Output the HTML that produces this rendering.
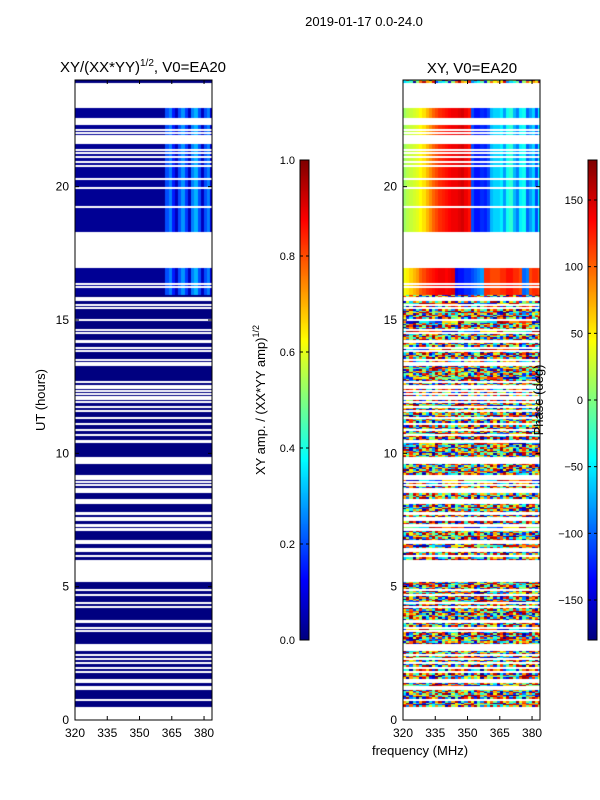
<!DOCTYPE html>
<html><head><meta charset="utf-8">
<style>
html,body{margin:0;padding:0;background:#fff;width:600px;height:800px;overflow:hidden}
#root{position:relative;width:600px;height:800px;font-family:"Liberation Sans","DejaVu Sans",sans-serif}
canvas{position:absolute}
svg{position:absolute;left:0;top:0}
</style></head>
<body>
<div id="root">
<canvas id="ampCanvas" width="137" height="640" style="left:75px;top:80px"></canvas>
<canvas id="phaseCanvas" width="137" height="640" style="left:403px;top:80px"></canvas>
<canvas id="cb1" width="9" height="480" style="left:300px;top:160px"></canvas>
<canvas id="cb2" width="9" height="480" style="left:588px;top:160px"></canvas>
<svg id="ov" width="600" height="800"></svg>
</div>
<script>
// ---- data ----
const freqStart = 320, freqStep = 1.5, nFreq = 44;
const utStep = 0.05;
const dataRanges = [[0.52, 22.95], [23.9, 24.0]];
const gapRanges = [
 [22.3,22.57],[22.12,22.16],[22.0,22.04],[21.88,21.92],[21.6,21.9],[21.38,21.42],[21.26,21.3],[21.1,21.14],[20.93,20.97],[20.75,20.8],[20.25,20.32],[19.93,19.98],[19.22,19.27],[18.25,18.3],[16.95,18.25],
 [16.35,16.4],[16.23,16.27],[15.7,15.85],[15.55,15.6],[15.42,15.47],[14.98,15.03],[14.64,14.68],[14.52,14.56],[14.15,14.25],[13.95,13.99],[13.83,13.87],[13.5,13.54],[13.4,13.44],[13.3,13.34],
 [12.65,12.72],[12.55,12.58],[12.45,12.48],[12.33,12.36],[12.22,12.25],[12.12,12.15],[12.03,12.06],[11.9,11.96],[11.75,11.79],[11.6,11.64],[11.28,11.36],[11.1,11.14],[10.88,10.92],[10.65,10.72],[10.4,10.5],
 [9.6,9.85],[9.0,9.2],[8.95,8.98],[8.82,8.86],[8.5,8.7],[8.1,8.3],[7.7,7.8],[7.6,7.63],[7.52,7.55],[7.25,7.35],[7.1,7.2],[6.72,6.75],[6.63,6.66],[6.3,6.45],[6.1,6.2],[5.17,6.0],
 [4.88,4.92],[4.7,4.74],[4.38,4.42],[4.23,4.27],[3.65,3.75],[3.45,3.49],[3.35,3.39],[2.6,2.85],[2.45,2.49],[2.3,2.34],[2.12,2.16],[1.95,1.99],[1.8,1.84],[1.4,1.55],[1.25,1.29],[1.15,1.19],[0.73,0.8]
];
const structuredBands = [[18.3, 22.95], [15.95, 16.95]];
const ampByFreq = [0.02,0.02,0.02,0.02,0.02,0.02,0.02,0.02,0.02,0.02,0.02,0.02,0.02,0.02,0.02,0.02,0.02,0.02,0.02,0.02,0.02,0.02,0.02,0.02,0.02,0.02,0.02,0.02,
 0.2,0.25,0.15,0.06,0.2,0.27,0.18,0.06,0.25,0.3,0.2,0.06,0.2,0.25,0.08,0.15];
const phaseUpperByFreq = [10,20,25,30,35,45,55,70,85,100,110,120,125,130,135,140,140,145,150,140,130,-110,-130,-130,-120,-125,-110,-70,-60,
 -60,-50,-80,-40,-30,-70,-90,-50,-40,-100,-80,-60,-110,-50,-40];
const phaseLowerByFreq = [40,50,60,70,80,100,110,120,125,130,135,140,140,135,140,145,-140,-130,-130,-120,-120,-110,-100,-90,-80,120,120,110,110,110,120,120,130,130,120,120,110,-100,-90,110,120,120,110,110];
const noisePhases = [170,-150,60,-20,120,-90,10,150,-170,40,-60,100,-120,0,80,-40,160];
const ampTicks = [0,0.2,0.4,0.6,0.8,1.0];
const phaseTicks = [-150,-100,-50,0,50,100,150];
const utTicks = [0,5,10,15,20];
const freqTicks = [320,335,350,365,380];

// ---- scales ----
const AX_W=137, AX_H=640, FMIN=320, FMAX=383.7, UMAX=24;
function xs(f){return (f-FMIN)/(FMAX-FMIN)*AX_W;}
function ys(u){return AX_H - u/UMAX*AX_H;}
function jet(v){v=Math.max(0,Math.min(1,v));
 const r=Math.max(0,Math.min(1,1.5-Math.abs(4*v-3))),g=Math.max(0,Math.min(1,1.5-Math.abs(4*v-2))),b=Math.max(0,Math.min(1,1.5-Math.abs(4*v-1)));
 return `rgb(${Math.round(r*255)},${Math.round(g*255)},${Math.round(b*255)})`;}
function inR(u,rs){return rs.some(r=>u>=r[0]&&u<r[1]);}
function bandIdx(u){for(let i=0;i<structuredBands.length;i++){if(u>=structuredBands[i][0]&&u<structuredBands[i][1])return i;}return -1;}

const ac=document.getElementById('ampCanvas').getContext('2d');
const pc=document.getElementById('phaseCanvas').getContext('2d');
let row=0;
for(let u=0;u<UMAX;u+=utStep,row++){
 const uc=u+utStep/2;
 if(!inR(uc,dataRanges))continue;
 const y0=Math.round(ys(u+utStep)),y1=Math.round(ys(u));
 if(y1<=y0)continue;
 const b=bandIdx(uc);
 for(let j=0;j<nFreq;j++){
  const f=freqStart+j*freqStep,x0=Math.round(xs(f)),x1=Math.round(xs(f+freqStep));
  const a=b>=0?ampByFreq[j]:0.0;
  ac.fillStyle=jet(a);ac.fillRect(x0,y0,x1-x0,y1-y0);
  let p;
  if(b===0)p=phaseUpperByFreq[j];
  else if(b===1)p=phaseLowerByFreq[j];
  else p=noisePhases[(row*5+j*3+(row*j)%7)%noisePhases.length];
  pc.fillStyle=jet((p+180)/360);pc.fillRect(x0,y0,x1-x0,y1-y0);
 }
}
gapRanges.forEach(g=>{
 const y0=Math.round(ys(g[1])),h=Math.max(2,Math.round(ys(g[0]))-y0);
 ac.clearRect(0,y0,AX_W,h);pc.clearRect(0,y0,AX_W,h);
});
function cbar(id){const c=document.getElementById(id).getContext('2d');for(let i=0;i<480;i++){c.fillStyle=jet(1-i/479);c.fillRect(0,i,9,1);}}
cbar('cb1');cbar('cb2');

// ---- overlay ----
const NS='http://www.w3.org/2000/svg',ov=document.getElementById('ov');
function el(t,at,txt){const e=document.createElementNS(NS,t);for(const k in at)e.setAttribute(k,at[k]);if(txt!==undefined)e.textContent=txt;ov.appendChild(e);return e;}
function axes(x0,name){
 const r=el('rect',{x:x0,y:80,width:AX_W,height:AX_H,fill:'none',stroke:'#000','stroke-width':1});
 
 
 utTicks.forEach(t=>{const y=80+ys(t);
  el('line',{x1:x0,x2:x0+4,y1:y,y2:y,stroke:'#000'});el('line',{x1:x0+AX_W-4,x2:x0+AX_W,y1:y,y2:y,stroke:'#000'});
  const tx=el('text',{x:x0-6,y:y+4,'text-anchor':'end','font-size':12},String(t));
  
  });
 freqTicks.forEach(t=>{const x=x0+xs(t);
  el('line',{x1:x,x2:x,y1:720,y2:716,stroke:'#000'});el('line',{x1:x,x2:x,y1:80,y2:84,stroke:'#000'});
  const tx=el('text',{x:x,y:737,'text-anchor':'middle','font-size':12},String(t));
  
  });
}
axes(75,'amplitude-axes');axes(403,'phase-axes');
function cbTicks(x0,ticks,min,max,fmt,name){
 el('rect',{x:x0,y:160,width:9,height:480,fill:'none',stroke:'#000'});
 ticks.forEach(t=>{const y=640-(t-min)/(max-min)*480;
  el('line',{x1:x0,x2:x0+3,y1:y,y2:y,stroke:'#000'});el('line',{x1:x0+6,x2:x0+9,y1:y,y2:y,stroke:'#000'});
  const tx=el('text',{x:x0-5,y:y+4,'text-anchor':'end','font-size':11},fmt(t));
  
  });
}
cbTicks(300,ampTicks,0,1,t=>t.toFixed(1),'amp-colorbar-tick');
cbTicks(588,phaseTicks,-180,180,t=>t<0?'\u2212'+(-t):String(t),'phase-colorbar-tick');
</script>
<svg width="600" height="800" style="position:absolute;left:0;top:0;pointer-events:none" font-family="Liberation Sans, DejaVu Sans, sans-serif">
<text x="364" y="26" text-anchor="middle" font-size="13">2019-01-17 0.0-24.0</text>
<text x="143" y="72" text-anchor="middle" font-size="15">XY/(XX*YY)<tspan font-size="10" dy="-6">1/2</tspan><tspan dy="6">, V0=EA20</tspan></text>
<text x="472" y="73" text-anchor="middle" font-size="15">XY, V0=EA20</text>
<text x="45" y="400" text-anchor="middle" font-size="13" transform="rotate(-90 45 400)">UT (hours)</text>
<text x="265" y="400" text-anchor="middle" font-size="13" transform="rotate(-90 265 400)">XY amp. / (XX*YY amp)<tspan font-size="9" dy="-6">1/2</tspan></text>
<text x="543" y="400" text-anchor="middle" font-size="13" transform="rotate(-90 543 400)">Phase (deg)</text>
<text x="420" y="755" text-anchor="middle" font-size="13">frequency (MHz)</text>
</svg>
</body></html>
